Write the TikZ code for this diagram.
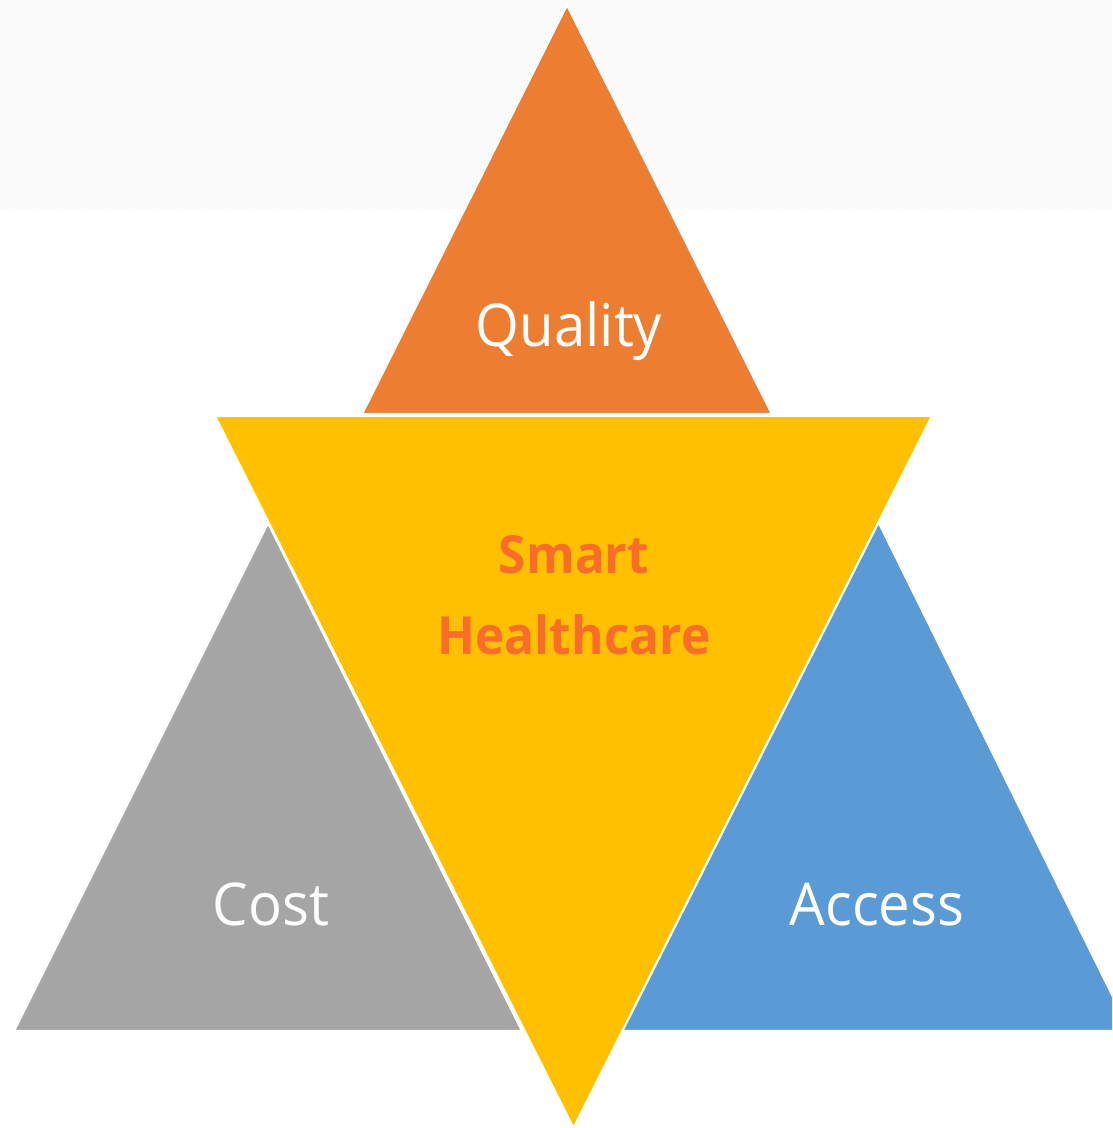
\documentclass[tikz,border=0pt]{standalone}
\usepackage{fontspec}
\setmainfont{Open Sans}
\usetikzlibrary{patterns}
\definecolor{qorange}{HTML}{ED7D31}
\definecolor{syellow}{HTML}{FFC000}
\definecolor{cgray}{HTML}{A5A5A5}
\definecolor{ablue}{HTML}{5B9BD5}
\definecolor{stext}{RGB}{250,108,42}
\definecolor{hatch}{gray}{0.955}
\tikzset{
  tri/.style={draw=white, line width=2.2pt, line join=miter},
  lbl/.style={text=white, anchor=base, inner sep=0pt, xscale=0.955, font=\fontsize{59}{70}\selectfont},
  smart/.style={text=stext, anchor=base, inner sep=0pt, xscale=0.945, font=\bfseries\fontsize{52.5}{62}\selectfont},
}
\begin{document}
\begin{tikzpicture}[x=1pt,y=-1pt]
\useasboundingbox (0,0) rectangle (1112,1128);
\clip (0,0) rectangle (1112,1128);
\fill[white] (0,0) rectangle (1112,1128);
\fill[pattern=north west lines, pattern color=hatch] (0,0) rectangle (1112,208);
% triangles
\filldraw[tri, fill=qorange] (567,5) -- (772,414) -- (362,414) -- cycle;
\filldraw[tri, fill=cgray] (268,523) -- (522,1031) -- (14,1031) -- cycle;
\filldraw[tri, fill=ablue] (876,517) -- (1130,1031) -- (620,1031) -- cycle;
\filldraw[tri, fill=syellow] (215,416) -- (932,416) -- (573.5,1128) -- cycle;
% labels
\node[lbl] (quality) at (569,346) {Quality};
\node[lbl] (cost) at (271,925) {Cost};
\node[lbl] (access) at (877,925) {Access};
\node[smart] (smart) at (574,573) {Smart};
\node[smart] (health) at (574,654) {Healthcare};
\end{tikzpicture}
\end{document}
